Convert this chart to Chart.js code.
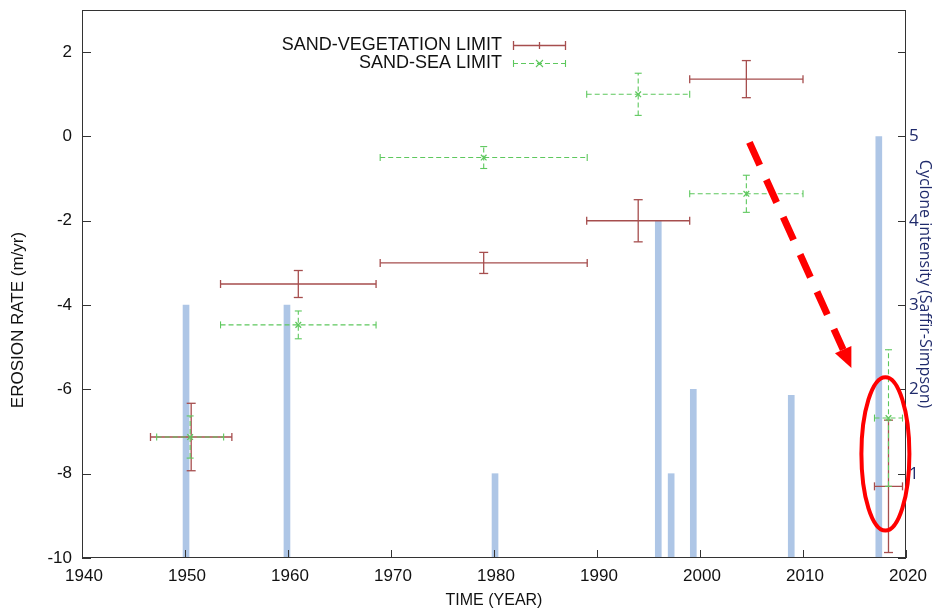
<!DOCTYPE html>
<html><head><meta charset="utf-8">
<script src="https://cdn.jsdelivr.net/npm/chart.js@4.4.1/dist/chart.umd.min.js"></script>
<style>html,body{margin:0;padding:0;background:#fff;}canvas{display:block;}</style>
</head><body>
<canvas id="c" width="939" height="612"></canvas>
<script>
// ---- tick values / labels ----
const xTicks = [1940, 1950, 1960, 1970, 1980, 1990, 2000, 2010, 2020];
const yTicks = [-10, -8, -6, -4, -2, 0, 2];
const y2Ticks = [0, 1, 2, 3, 4, 5, 6];
const y2TickLabels = ['', '1', '2', '3', '4', '5', ''];

// ---- SAND-VEGETATION LIMIT (red) ----
const vegLabel = 'SAND-VEGETATION LIMIT';
const vegYear = [1950.6, 1961.0, 1979.0, 1994.0, 2004.5, 2018.3];
const vegYearErr = [3.95, 7.55, 10.05, 5.0, 5.5, 1.36];
const vegRate = [-7.13, -3.5, -3.0, -2.0, 1.36, -8.3];
const vegRateErr = [0.8, 0.32, 0.25, 0.5, 0.44, 1.57];

// ---- SAND-SEA LIMIT (green) ----
const seaLabel = 'SAND-SEA LIMIT';
const seaYear = [1950.5, 1961.0, 1979.0, 1994.0, 2004.5, 2018.3];
const seaYearErr = [3.25, 7.55, 10.05, 5.0, 5.5, 1.36];
const seaRate = [-7.13, -4.47, -0.5, 1.0, -1.36, -6.68];
const seaRateErr = [0.5, 0.33, 0.26, 0.5, 0.44, 1.62];

// ---- Cyclones (right axis) ----
const cycloneYear = [1950.1, 1959.9, 1980.1, 1995.95, 1997.2, 1999.35, 2008.86, 2017.36];
const cycloneCat = [3, 3, 1, 4, 1, 2, 1.93, 5];

// ---- axis titles ----
const xTitle = 'TIME (YEAR)';
const yTitle = 'EROSION RATE (m/yr)';
const y2Title = 'Cyclone intensity (Saffir-Simpson)';

// ---- annotation (data units) ----
const ellipseAnno = { x: 2018.0, y: -7.53, rx: 2.33, ry: 1.82 };
const arrowAnno = { x0: 2004.8, y0: -0.14, x1: 2014.7, y1: -5.49 };

const RED = '#a64e4e';
const GREEN = '#5ec85e';
const BLUE = '#aec6e6';
const NAVY = '#1f2a6b';
const SANS = "'Liberation Sans', Arial, sans-serif";
const DASH = [5, 3];

function hSeg(xc, xe, yc) {
  const out = [];
  xc.forEach((v, i) => { out.push({x: v - xe[i], y: yc[i]}, {x: v + xe[i], y: yc[i]}, {x: v, y: null}); });
  return out;
}
function vSeg(xc, yc, ye) {
  const out = [];
  xc.forEach((v, i) => { out.push({x: v, y: yc[i] - ye[i]}, {x: v, y: yc[i] + ye[i]}, {x: v, y: null}); });
  return out;
}
const endR = r => (c => (c.raw && c.raw.y !== null) ? r : 0);
const noPad = s => { s.paddingTop = 0; s.paddingBottom = 0; s.paddingLeft = 0; s.paddingRight = 0; };

const decor = {
  id: 'decor',
  afterDatasetsDraw(chart) {
    const {ctx, chartArea: a, scales: {x, y, y2}} = chart;
    ctx.save();
    // frame
    ctx.strokeStyle = '#333'; ctx.lineWidth = 1;
    ctx.strokeRect(a.left + 0.5, a.top + 0.5, a.right - a.left - 1, a.bottom - a.top - 1);
    // inward ticks
    ctx.beginPath();
    xTicks.forEach(v => { const p = Math.round(x.getPixelForValue(v)) + 0.5; ctx.moveTo(p, a.bottom); ctx.lineTo(p, a.bottom - 8); });
    yTicks.forEach(v => { const p = Math.round(y.getPixelForValue(v)) + 0.5; ctx.moveTo(a.left, p); ctx.lineTo(a.left + 9, p); });
    y2Ticks.forEach(v => { const p = Math.round(y2.getPixelForValue(v)) + 0.5; ctx.moveTo(a.right, p); ctx.lineTo(a.right - 8, p); });
    ctx.stroke();

    // left axis title
    ctx.save();
    ctx.translate(18, 320); ctx.rotate(-Math.PI / 2);
    ctx.font = '17px ' + SANS; ctx.fillStyle = '#111'; ctx.textAlign = 'center'; ctx.textBaseline = 'middle';
    ctx.fillText(yTitle, 0, 0);
    ctx.restore();

    // legend
    ctx.font = '18px ' + SANS; ctx.fillStyle = '#111'; ctx.textAlign = 'right'; ctx.textBaseline = 'middle';
    ctx.fillText(vegLabel, 502, 45);
    ctx.fillText(seaLabel, 502, 63);
    ctx.strokeStyle = RED; ctx.lineWidth = 1.3;
    ctx.beginPath();
    ctx.moveTo(513, 45.5); ctx.lineTo(566, 45.5);
    ctx.moveTo(513.5, 41); ctx.lineTo(513.5, 50);
    ctx.moveTo(565.5, 41); ctx.lineTo(565.5, 50);
    ctx.moveTo(539.5, 42); ctx.lineTo(539.5, 49);
    ctx.stroke();
    ctx.strokeStyle = GREEN; ctx.lineWidth = 1.1;
    ctx.beginPath();
    ctx.setLineDash(DASH);
    ctx.moveTo(513, 63.5); ctx.lineTo(566, 63.5);
    ctx.stroke();
    ctx.setLineDash([]);
    ctx.beginPath();
    ctx.moveTo(513.5, 60); ctx.lineTo(513.5, 67);
    ctx.moveTo(565.5, 60); ctx.lineTo(565.5, 67);
    ctx.moveTo(536, 60); ctx.lineTo(543, 67);
    ctx.moveTo(543, 60); ctx.lineTo(536, 67);
    ctx.stroke();

    // red ellipse
    const ex = x.getPixelForValue(ellipseAnno.x), ey = y.getPixelForValue(ellipseAnno.y);
    const erx = Math.abs(x.getPixelForValue(ellipseAnno.x + ellipseAnno.rx) - ex);
    const ery = Math.abs(y.getPixelForValue(ellipseAnno.y + ellipseAnno.ry) - ey);
    ctx.strokeStyle = '#ff0000'; ctx.lineWidth = 4;
    ctx.beginPath(); ctx.ellipse(ex, ey, erx, ery, 0, 0, Math.PI * 2); ctx.stroke();

    // red dashed arrow
    const ax0 = x.getPixelForValue(arrowAnno.x0), ay0 = y.getPixelForValue(arrowAnno.y0);
    const ax1 = x.getPixelForValue(arrowAnno.x1), ay1 = y.getPixelForValue(arrowAnno.y1);
    const ang = Math.atan2(ay1 - ay0, ax1 - ax0);
    const headL = 20, headW = 9;
    const bx = ax1 - headL * Math.cos(ang), by = ay1 - headL * Math.sin(ang);
    ctx.lineWidth = 7; ctx.lineCap = 'butt';
    ctx.setLineDash([25, 16]);
    ctx.beginPath(); ctx.moveTo(ax0, ay0); ctx.lineTo(bx, by); ctx.stroke();
    ctx.setLineDash([]);
    ctx.fillStyle = '#ff0000';
    ctx.beginPath();
    ctx.moveTo(ax1, ay1);
    ctx.lineTo(bx + headW * Math.sin(ang), by - headW * Math.cos(ang));
    ctx.lineTo(bx - headW * Math.sin(ang), by + headW * Math.cos(ang));
    ctx.closePath(); ctx.fill();
    ctx.restore();
  }
};

new Chart(document.getElementById('c'), {
  type: 'line',
  data: {
    datasets: [
      { label: seaLabel, data: seaYear.map((v, i) => ({x: v, y: seaRate[i]})), showLine: false,
        pointStyle: 'crossRot', pointRadius: 4, pointBorderColor: GREEN, pointBorderWidth: 1.3, borderColor: GREEN, order: 0 },
      { label: seaLabel, data: hSeg(seaYear, seaYearErr, seaRate), borderColor: GREEN, borderWidth: 1.1, borderDash: DASH,
        pointStyle: 'line', pointRotation: 90, pointRadius: endR(3.5), pointBorderColor: GREEN, pointBorderWidth: 1.1, order: 1 },
      { label: seaLabel, data: vSeg(seaYear, seaRate, seaRateErr), borderColor: GREEN, borderWidth: 1.1, borderDash: DASH,
        pointStyle: 'line', pointRotation: 0, pointRadius: endR(3.5), pointBorderColor: GREEN, pointBorderWidth: 1.1, order: 1 },
      { label: vegLabel, data: hSeg(vegYear, vegYearErr, vegRate), borderColor: RED, borderWidth: 1.3,
        pointStyle: 'line', pointRotation: 90, pointRadius: endR(4), pointBorderColor: RED, pointBorderWidth: 1.3, order: 2 },
      { label: vegLabel, data: vSeg(vegYear, vegRate, vegRateErr), borderColor: RED, borderWidth: 1.3,
        pointStyle: 'line', pointRotation: 0, pointRadius: endR(4.5), pointBorderColor: RED, pointBorderWidth: 1.3, order: 2 },
      { type: 'bar', label: 'Cyclone intensity', data: cycloneYear.map((v, i) => ({x: v, y: cycloneCat[i]})),
        yAxisID: 'y2', xAxisID: 'x', backgroundColor: BLUE, borderWidth: 0, barThickness: 6, order: 10 }
    ]
  },
  options: {
    responsive: false, animation: false, devicePixelRatio: 1, events: [],
    layout: { padding: { top: 10, left: 0, right: 0, bottom: 0 } },
    plugins: { legend: { display: false }, tooltip: { enabled: false } },
    elements: { line: { tension: 0, fill: false } },
    scales: {
      x: {
        type: 'linear', min: 1940, max: 2020, offset: false,
        afterBuildTicks: s => { s.ticks = xTicks.map(v => ({value: v})); },
        afterFit: s => { s.height = 54; noPad(s); },
        grid: { display: false, drawTicks: false }, border: { display: false },
        ticks: { color: '#111', font: { family: SANS, size: 17 }, padding: 8, labelOffset: 2, maxRotation: 0, autoSkip: false, callback: v => String(v) },
        title: { display: true, text: xTitle, color: '#111', font: { family: SANS, size: 16 }, padding: { top: 0, bottom: 2 } }
      },
      y: {
        type: 'linear', position: 'left', min: -10, max: 3,
        afterBuildTicks: s => { s.ticks = yTicks.map(v => ({value: v})); },
        afterFit: s => { s.width = 82; noPad(s); },
        grid: { display: false, drawTicks: false }, border: { display: false },
        ticks: { color: '#111', font: { family: SANS, size: 17 }, padding: 10, autoSkip: false, callback: v => String(v) },
        title: { display: false }
      },
      y2: {
        type: 'linear', position: 'right', min: 0, max: 6.5,
        afterBuildTicks: s => { s.ticks = y2Ticks.map(v => ({value: v})); },
        afterFit: s => { s.width = 33; noPad(s); },
        grid: { display: false, drawTicks: false }, border: { display: false },
        ticks: { color: NAVY, font: { family: "'Open Sans', sans-serif", size: 17 }, padding: 3, autoSkip: false,
          callback: v => y2TickLabels[y2Ticks.indexOf(v)] },
        title: { display: true, text: y2Title, color: NAVY, font: { family: "'Open Sans', sans-serif", size: 16 }, padding: { top: 5, bottom: 0 } }
      }
    }
  },
  plugins: [decor]
});
</script>
</body></html>
